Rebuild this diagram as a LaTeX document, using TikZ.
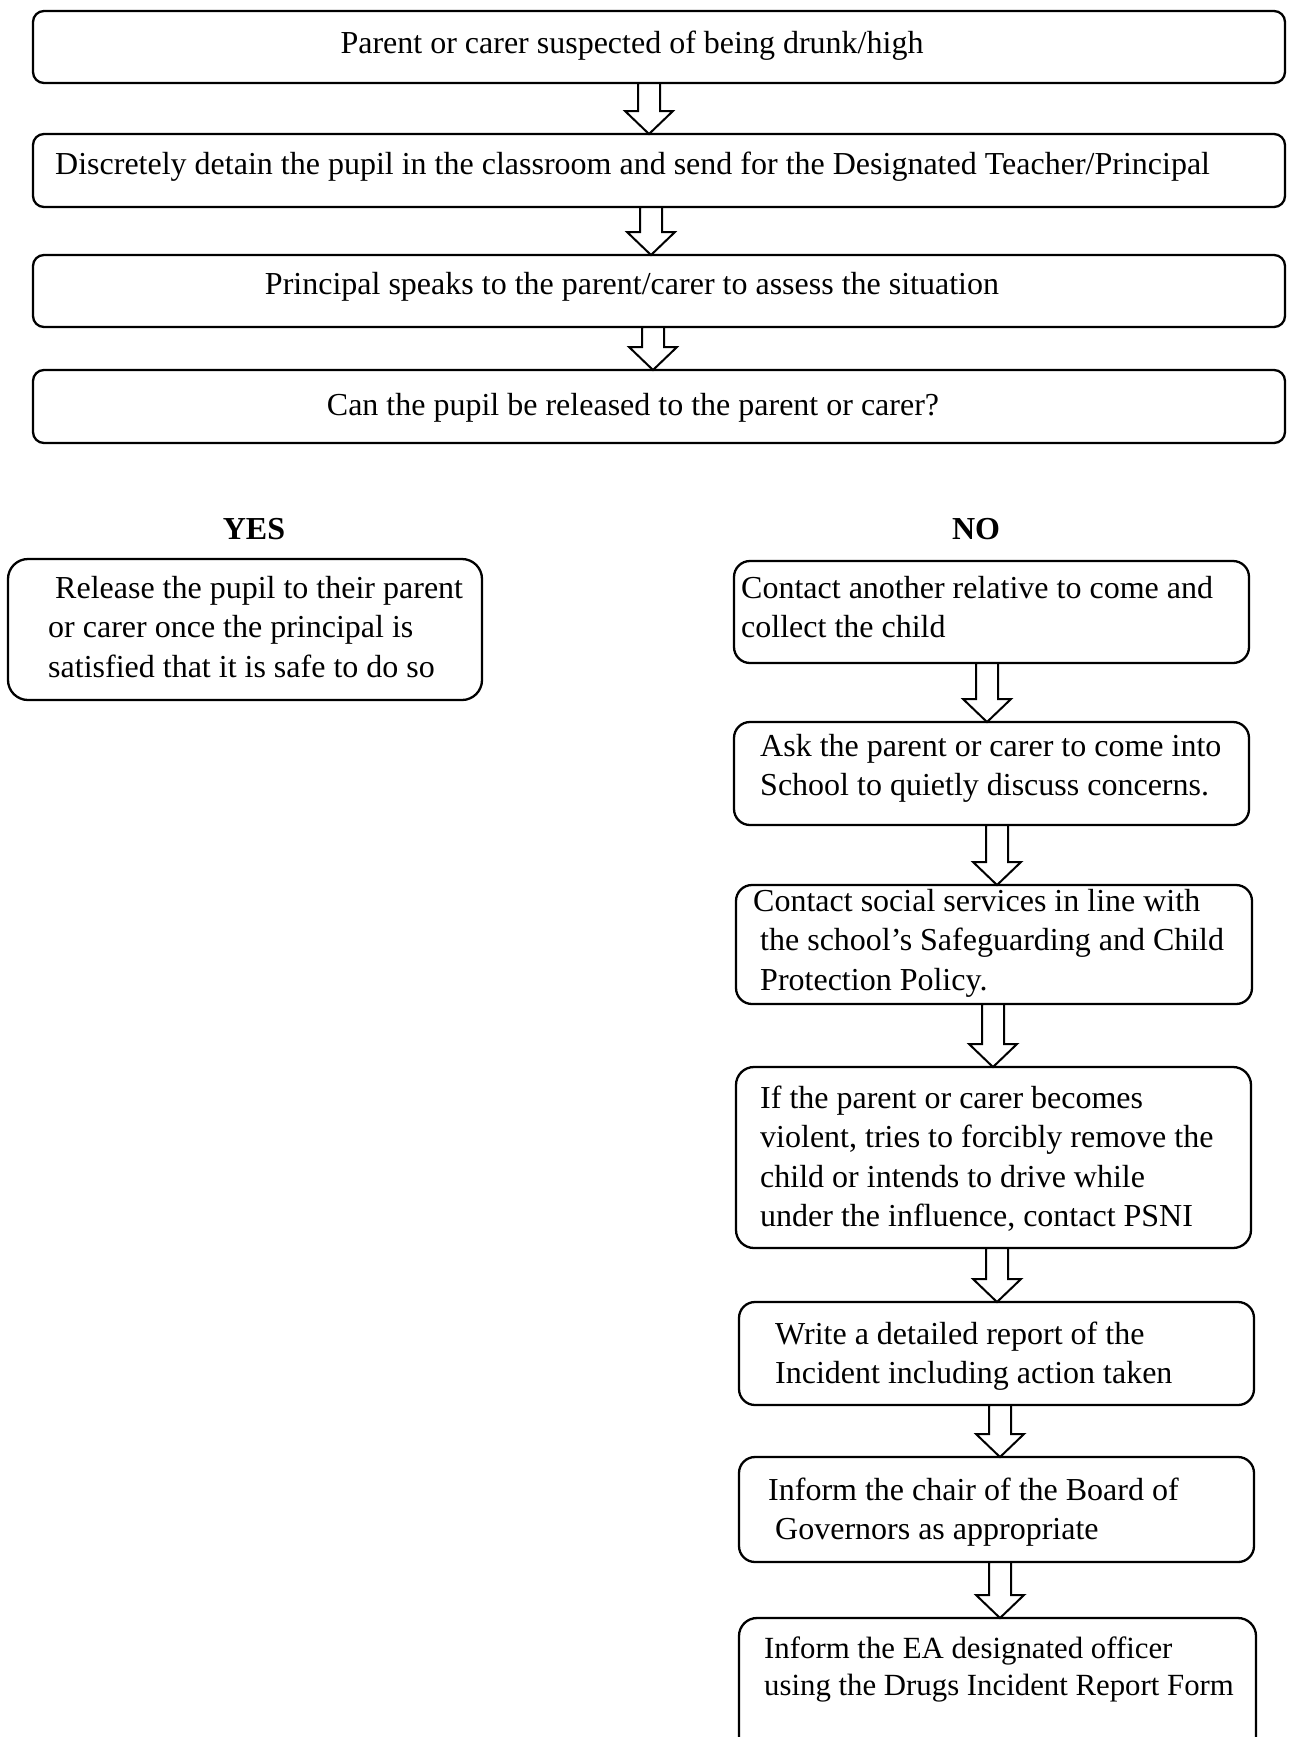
\documentclass[tikz,border=0pt]{standalone}
\usepackage{fontspec}
\setmainfont{Liberation Serif}
\usetikzlibrary{calc}
\newcommand\txtlines[1]{\begin{tabular}[t]{@{}l@{}}#1\end{tabular}}
\newcommand\blkarrow[3]{%
  \draw[blk] ($(#1.south -| #3)+(-11,0)$) -- ($(#1.south -| #3)+(11,0)$)
    -- ($(#2.north -| #3)+(11,-23)$) -- ($(#2.north -| #3)+(24,-23)$)
    -- (#2.north -| #3) -- ($(#2.north -| #3)+(-24,-23)$)
    -- ($(#2.north -| #3)+(-11,-23)$) -- cycle;}
\tikzset{
  box/.style={draw, line width=2.3pt, rounded corners=#1, inner sep=0pt, outer sep=0pt, anchor=north west},
  box/.default=12pt,
  blk/.style={draw, line width=2pt, fill=white, line join=miter},
  txt/.style={inner sep=0pt, anchor=base west, font=\fontsize{32}{39.5}\selectfont},
  ctxt/.style={inner sep=0pt, anchor=base, font=\fontsize{32}{39.5}\selectfont},
  btxt/.style={inner sep=0pt, anchor=base, font=\fontsize{32}{39.5}\selectfont\bfseries},
}
\begin{document}
\begin{tikzpicture}[x=1pt,y=-1pt]
\useasboundingbox (0,0) rectangle (1289,1737);
\clip (0,0) rectangle (1289,1737);
\fill[white] (0,0) rectangle (1289,1737);
% top column boxes
\node[box=11pt, minimum width=1252pt, minimum height=72pt] (b1) at (33,11) {};
\node[box=11pt, minimum width=1252pt, minimum height=73pt] (b2) at (33,134) {};
\node[box=11pt, minimum width=1252pt, minimum height=72pt] (b3) at (33,255) {};
\node[box=11pt, minimum width=1252pt, minimum height=73pt] (b4) at (33,370) {};
% YES box
\node[box=20pt, minimum width=474pt, minimum height=141pt] (yb) at (8,559) {};
% NO column boxes
\node[box=16pt, minimum width=515pt, minimum height=102pt] (n1) at (734,561) {};
\node[box=16pt, minimum width=515pt, minimum height=103pt] (n2) at (734,722) {};
\node[box=16pt, minimum width=516pt, minimum height=119pt] (n3) at (736,885) {};
\node[box=18pt, minimum width=515pt, minimum height=181pt] (n4) at (736,1067) {};
\node[box=16pt, minimum width=515pt, minimum height=103pt] (n5) at (739,1302) {};
\node[box=16pt, minimum width=515pt, minimum height=105pt] (n6) at (739,1457) {};
\node[box=18pt, minimum width=517pt, minimum height=162pt] (n7) at (739,1618) {};
% arrow axes
\coordinate (xa) at (649,0);
\coordinate (xb) at (651,0);
\coordinate (xc) at (653,0);
\coordinate (x1) at (987,0);
\coordinate (x2) at (997,0);
\coordinate (x3) at (993,0);
\coordinate (x4) at (997,0);
\coordinate (x5) at (1000,0);
\coordinate (x6) at (1000,0);
\blkarrow{b1}{b2}{xa}
\blkarrow{b2}{b3}{xb}
\blkarrow{b3}{b4}{xc}
\blkarrow{n1}{n2}{x1}
\blkarrow{n2}{n3}{x2}
\blkarrow{n3}{n4}{x3}
\blkarrow{n4}{n5}{x4}
\blkarrow{n5}{n6}{x5}
\blkarrow{n6}{n7}{x6}
% texts
\node[ctxt] (t1) at (632,53) {Parent or carer suspected of being drunk/high};
\node[txt] (t2) at (55,174) {Discretely detain the pupil in the classroom and send for the Designated Teacher/Principal};
\node[ctxt] (t3) at (632,294) {Principal speaks to the parent/carer to assess the situation};
\node[ctxt] (t4) at (633,415) {Can the pupil be released to the parent or carer?};
\node[btxt] (yes) at (254,539) {YES};
\node[btxt] (no) at (976,539) {NO};
\node[txt] (ty) at (48,598) {\txtlines{\hspace*{7pt}Release the pupil to their parent\\or carer once the principal is\\satisfied that it is safe to do so}};
\node[txt] (tn1) at (741,598) {\txtlines{Contact another relative to come and\\collect the child}};
\node[txt] (tn2) at (760,756) {\txtlines{Ask the parent or carer to come into\\School to quietly discuss concerns.}};
\node[txt] (tn3) at (760,911) {\txtlines{\hspace*{-7pt}Contact social services in line with\\the school’s Safeguarding and Child\\Protection Policy.}};
\node[txt] (tn4) at (760,1108) {\txtlines{If the parent or carer becomes\\violent, tries to forcibly remove the\\child or intends to drive while\\under the influence, contact PSNI}};
\node[txt] (tn5) at (775,1344) {\txtlines{Write a detailed report of the\\Incident including action taken}};
\node[txt] (tn6) at (768,1500) {\txtlines{Inform the chair of the Board of\\\hspace*{7pt}Governors as appropriate}};
\node[txt, font=\fontsize{30.8}{37}\selectfont] (tn7) at (764,1658) {\txtlines{Inform the EA designated officer\\using the Drugs Incident Report Form}};
\end{tikzpicture}
\end{document}
